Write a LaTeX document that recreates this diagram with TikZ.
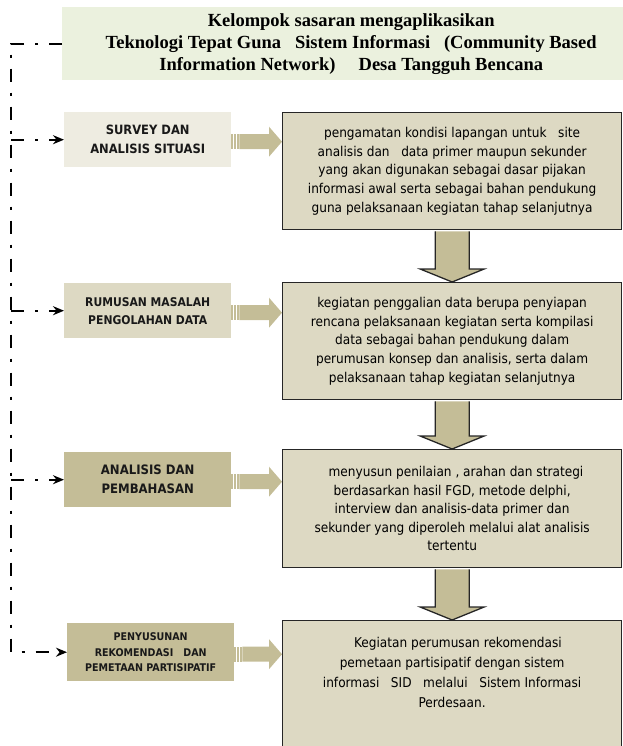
\documentclass[tikz,border=0pt]{standalone}
\usepackage{fontspec}
\setmainfont{Liberation Serif}
\setsansfont{DejaVu Sans Condensed}
\usepackage{xcolor}
\definecolor{goalfill}{HTML}{EBF1DE}
\definecolor{stagelight}{HTML}{EEECE1}
\definecolor{stagemid}{HTML}{DDD9C3}
\definecolor{stagedark}{HTML}{C4BD97}
\definecolor{boxedge}{HTML}{262626}
\usepackage{tikz}
\usetikzlibrary{arrows.meta, positioning, calc}

\begin{document}
\begin{tikzpicture}[
  x=1pt, y=-1pt,
  goal/.style={
    fill=goalfill, minimum width=578pt, minimum height=73pt, inner sep=0pt,
    align=center, font=\bfseries\fontsize{18.5}{22}\selectfont
  },
  stage/.style={
    minimum width=167pt, minimum height=55pt, inner sep=0pt, align=center,
    text=black!90, font=\sffamily\bfseries\fontsize{12.8}{19}\selectfont
  },
  detail/.style={
    draw=boxedge, line width=1.3pt, fill=stagemid, minimum width=339pt,
    inner sep=0pt
  },
  detailtext/.style={align=center, font=\sffamily\fontsize{13.5}{18.6}\selectfont},
  rail/.style={line width=2.2pt, dash pattern=on 13pt off 11pt on 3pt off 11pt},
  flow/.style={draw=boxedge, line width=1.3pt, fill=stagedark}
]
  \clip (0,0) rectangle (623,746);

  \node[goal, anchor=north west] (goal) at (62,7)
    {Kelompok sasaran mengaplikasikan\\
     Teknologi Tepat Guna~~~Sistem Informasi~~~(Community Based\\
     Information Network)~~~~~Desa Tangguh Bencana};

  % tahapan (kiri)
  \node[stage, fill=stagelight, anchor=north west] (s1) at (64,112)
    {SURVEY DAN\\ANALISIS SITUASI};
  \node[stage, fill=stagemid, anchor=north west,
    font=\sffamily\bfseries\fontsize{12}{18}\selectfont] (s2) at (64,283)
    {RUMUSAN MASALAH\\PENGOLAHAN DATA};
  \node[stage, fill=stagedark, anchor=north west,
    font=\sffamily\bfseries\fontsize{13}{19}\selectfont] (s3) at (64,452)
    {ANALISIS DAN\\PEMBAHASAN};
  \node[stage, fill=stagedark, anchor=north west, minimum height=58pt,
    font=\sffamily\bfseries\fontsize{10.6}{15.5}\selectfont] (s4) at (67,623)
    {PENYUSUNAN\\REKOMENDASI~~~DAN\\PEMETAAN PARTISIPATIF};

  % uraian (kanan)
  \node[detail, detailtext, anchor=north west, minimum height=117pt] (d1) at (282,112)
    {pengamatan kondisi lapangan untuk~~~site\\
     analisis dan~~~data primer maupun sekunder\\
     yang akan digunakan sebagai dasar pijakan\\
     informasi awal serta sebagai bahan pendukung\\
     guna pelaksanaan kegiatan tahap selanjutnya};
  \node[detail, detailtext, anchor=north west, minimum height=117pt] (d2) at (282,282)
    {kegiatan penggalian data berupa penyiapan\\
     rencana pelaksanaan kegiatan serta kompilasi\\
     data sebagai bahan pendukung dalam\\
     perumusan konsep dan analisis, serta dalam\\
     pelaksanaan tahap kegiatan selanjutnya};
  \node[detail, detailtext, anchor=north west, minimum height=118pt] (d3) at (282,449)
    {~~menyusun penilaian , arahan dan strategi\\
     berdasarkan hasil FGD, metode delphi,\\
     interview dan analisis-data primer dan\\
     sekunder yang diperoleh melalui alat analisis\\
     tertentu};
  \node[detail, anchor=north west, minimum height=150pt] (d4) at (282,620) {};
  \node[detailtext, anchor=north, font=\sffamily\fontsize{13.5}{20}\selectfont]
    (d4text) at ($(d4.north)+(0,14)$)
    {~~~Kegiatan perumusan rekomendasi\\
     pemetaan partisipatif dengan sistem\\
     informasi~~~SID~~~melalui~~~Sistem Informasi\\
     Perdesaan.};

  % panah turun
  \foreach \a/\b in {d1/d2, d2/d3, d3/d4} {
    \draw[flow] ($(\a.south)+(-17,1)$) -- ($(\b.north)+(-17,-13)$)
      -- ($(\b.north)+(-32,-13)$) -- (\b.north) -- ($(\b.north)+(32,-13)$)
      -- ($(\b.north)+(17,-13)$) -- ($(\a.south)+(17,1)$);
  }

  % panah bergaris ke kanan
  \foreach \s/\d in {s1/d1, s2/d2, s3/d3, s4/d4} {
    \foreach \o in {0,3,5.6}
      \fill[stagedark] ($(\s.east)+(\o,-5.5)$) rectangle +(1.6,15);
    \fill[stagedark] ($(\s.east)+(8,-5.5)$) -- ($(\s.east -| \d.west)+(-13,-5.5)$)
      -- ++(0,-7.5) -- ($(\s.east -| \d.west)+(0,2)$) -- ++(-13,15) -- ++(0,-7.5)
      -- ($(\s.east)+(8,9.5)$) -- cycle;
  }

  % garis titik-strip
  \coordinate (rail) at (11,0);
  \draw[rail, -{Stealth[length=11pt,width=9pt]}]
    (goal.west) -| (rail |- s4.west) -- (s4.west);
  \foreach \s in {s1,s2,s3}
    \draw[rail, -{Stealth[length=11pt,width=9pt]}] (rail |- \s.west) -- (\s.west);
\end{tikzpicture}
\end{document}
